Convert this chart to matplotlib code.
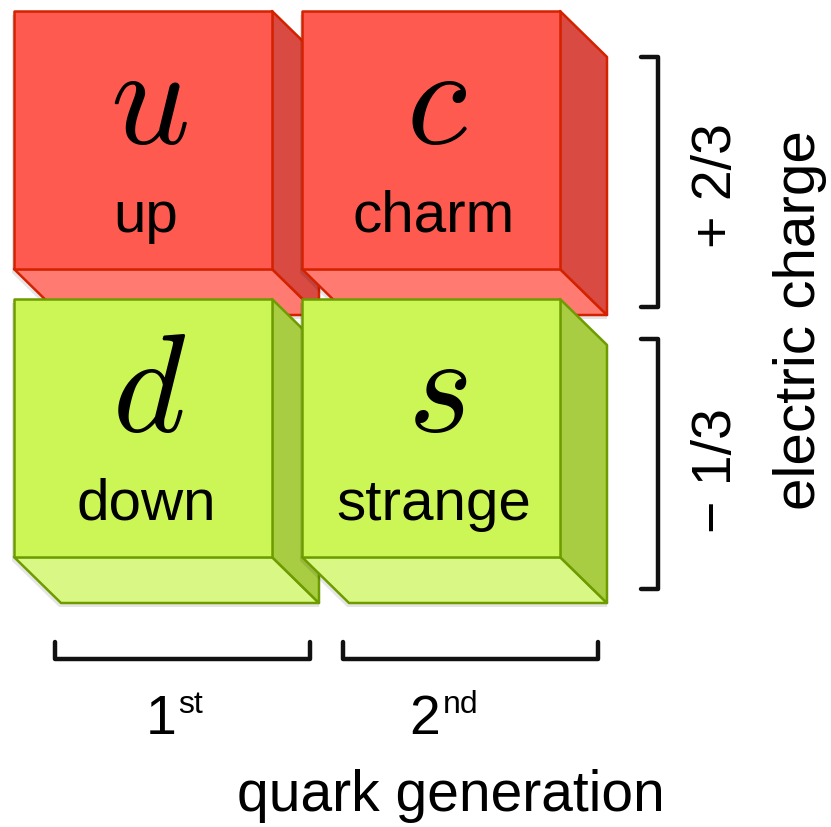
import matplotlib
matplotlib.use("Agg")
import matplotlib.pyplot as plt
from matplotlib.patches import Polygon

# ---- data ----
symbols = ["u", "c", "d", "s"]
names = ["up", "charm", "down", "strange"]
generations = [1, 2, 1, 2]
charge_rows = [0, 0, 1, 1]
charge_labels = ["+ 2/3", "\u2212 1/3"]
generation_labels = [("1", "st"), ("2", "nd")]
axis_x_label = "quark generation"
axis_y_label = "electric charge"

palettes = {
    0: dict(front="#FF5A50", right="#D84A42", bottom="#FF7B72", edge="#D42200"),
    1: dict(front="#CCF556", right="#A9CD42", bottom="#D9F785", edge="#6E9C00"),
}

plt.rcParams["mathtext.fontset"] = "cm"
SANS = ["Liberation Sans", "DejaVu Sans"]

W, H = 831, 828
fig = plt.figure(figsize=(W / 100, H / 100), dpi=100)
ax = fig.add_axes([0, 0, 1, 1])
ax.set_xlim(0, W)
ax.set_ylim(H, 0)
ax.axis("off")

S = 258          # front face size
STEP = 288       # spacing between cubes
DX, DY = 47, 46  # extrusion
X0, Y0 = 14, 12

for sym, name, g, r in zip(symbols, names, generations, charge_rows):
    pal = palettes[r]
    x0 = X0 + (g - 1) * STEP
    y0 = Y0 + r * STEP
    x1, y1 = x0 + S, y0 + S
    # soft shadow
    shadow = Polygon([(x0 - 2, y0 + 4), (x1, y0 + 4), (x1 + DX, y0 + DY + 4),
                      (x1 + DX, y1 + DY + 4), (x0 + DX - 2, y1 + DY + 4), (x0 - 2, y1 + 4)],
                     closed=True, facecolor="#000000", alpha=0.10, edgecolor="none")
    ax.add_patch(shadow)
    bottom = Polygon([(x0, y1), (x1, y1), (x1 + DX, y1 + DY), (x0 + DX, y1 + DY)],
                     closed=True, facecolor=pal["bottom"], edgecolor=pal["edge"],
                     linewidth=1.8, joinstyle="round")
    right = Polygon([(x1, y0), (x1 + DX, y0 + DY), (x1 + DX, y1 + DY), (x1, y1)],
                    closed=True, facecolor=pal["right"], edgecolor=pal["edge"],
                    linewidth=1.8, joinstyle="round")
    front = Polygon([(x0, y0), (x1, y0), (x1, y1), (x0, y1)],
                    closed=True, facecolor=pal["front"], edgecolor=pal["edge"],
                    linewidth=1.8, joinstyle="round")
    for p in (bottom, right, front):
        ax.add_patch(p)
    cx = x0 + S / 2 + 3
    ax.text(cx + 3, y0 + 131, f"${sym}$", fontsize=100, ha="center", va="baseline",
            color="black")
    ax.text(cx, y0 + 220, name, fontsize=42, ha="center", va="baseline",
            color="black", family=SANS)

LW = 3.2
# right brackets for charge
for r, lab in enumerate(charge_labels):
    top = 58 + r * 282
    bot = top + 250
    ax.plot([641, 658, 658, 641], [top, top, bot, bot], color="#111111",
            linewidth=LW, solid_capstyle="round", solid_joinstyle="round")
    ax.text(717, (top + bot) / 2 + 3 + r * 3, lab, fontsize=40, rotation=90,
            ha="center", va="center", family=SANS)
ax.text(800, 320, axis_y_label, fontsize=42, rotation=90, ha="center",
        va="center", family=SANS)

# bottom brackets for generation
for g, (num, sup) in enumerate(generation_labels):
    left = 55 + g * 288
    rgt = left + 255
    ax.plot([left, left, rgt, rgt], [643, 660, 660, 643], color="#111111",
            linewidth=LW, solid_capstyle="round", solid_joinstyle="round")
    nx = (left + rgt) / 2 - 6 - g * 24
    ax.text(nx, 734, num, fontsize=40, ha="right", va="baseline", family=SANS)
    ax.text(nx + 2, 713, sup, fontsize=23, ha="left", va="baseline", family=SANS)

ax.text(451, 811, axis_x_label, fontsize=41, ha="center", va="baseline", family=SANS)

fig.savefig("out.png", dpi=100, facecolor="white")
